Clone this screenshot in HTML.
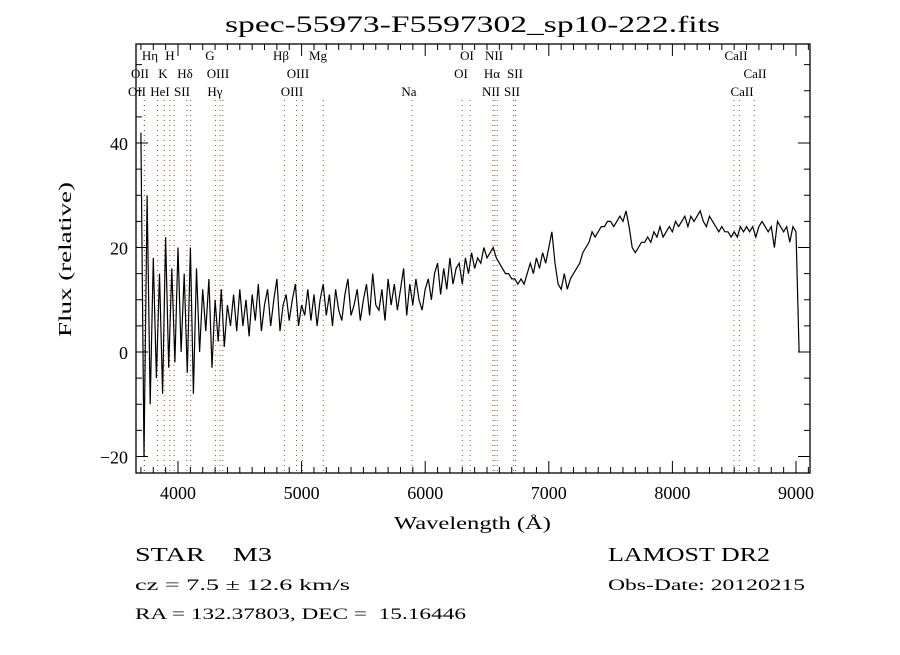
<!DOCTYPE html>
<html><head><meta charset="utf-8">
<style>
html,body{margin:0;padding:0;background:#fff;}
svg text{font-family:"Liberation Serif",serif;fill:#000;}
</style></head>
<body>
<svg id="chart" width="900" height="650" viewBox="0 0 900 650" xmlns="http://www.w3.org/2000/svg">
<rect x="0" y="0" width="900" height="650" fill="#fff"/>
<text x="225" y="32" font-size="23" textLength="495" lengthAdjust="spacingAndGlyphs">spec-55973-F5597302_sp10-222.fits</text>
<g id="lines"></g>
<g id="series"></g>
<g id="axes"></g>
<text x="394" y="529" font-size="18" textLength="157" lengthAdjust="spacingAndGlyphs">Wavelength (Å)</text>
<text transform="translate(71,337) rotate(-90)" font-size="18" textLength="155" lengthAdjust="spacingAndGlyphs">Flux (relative)</text>
<text x="135" y="561" font-size="20" textLength="137" lengthAdjust="spacingAndGlyphs" xml:space="preserve">STAR    M3</text>
<text x="608" y="561" font-size="20" textLength="162" lengthAdjust="spacingAndGlyphs">LAMOST DR2</text>
<text x="135" y="590" font-size="16" textLength="215" lengthAdjust="spacingAndGlyphs">cz = 7.5 ± 12.6 km/s</text>
<text x="608" y="590" font-size="16" textLength="197" lengthAdjust="spacingAndGlyphs">Obs-Date: 20120215</text>
<text x="135" y="619" font-size="16" textLength="331" lengthAdjust="spacingAndGlyphs" xml:space="preserve">RA = 132.37803, DEC =  15.16446</text>
</svg>
<script>
const wlStart = 3700;
const wlStep = 25;
const flux = [42,-20,30,-10,18,-5,15,-8,22,-3,16,-2,20,0,15,-4,20,
-8,16,0,12,4,14,-3,10,2,12,1,9,
5,11,4,12,5,10,3,11,6,13,4,9,12,5,10,14,4,9,11,6,10,13,5,9,
7,12,6,11,5,10,13,7,11,5,12,8,6,11,14,7,9,12,6,10,
13,7,15,9,8,12,6,14,9,13,8,12,16,7,13,9,14,10,8,12,
14,10,15,17,11,16,12,18,13,16,17,13,18,15,19,16,18,17,20,18,
19,20,18,17,16,15,15,14,14,13,14,13,15,17,15,18,16,19,17,20,
23,17,13,12,15,12,14,15,16,17,19,20,21,23,22,23,24,24,25,25,
24,25,26,25,27,24,20,19,20,21,21,22,21,23,22,24,22,23,24,23,
25,24,25,26,24,26,25,26,27,25,24,26,25,24,23,24,23,23,22,23,
22,24,23,24,23,24,22,24,25,24,23,24,20,25,24,23,24,21,24,23,0];
const xTicks = [4000,5000,6000,7000,8000,9000];
const yTicks = [-20,0,20,40];
const lineWl = [3727,3729,3835,3889,3934,3969,4072,4102,4304,4340,4363,4861,4959,5007,5175,5894,6300,6364,6548,6563,6583,6716,6731,8498,8542,8662];
const lineLabels = [["Hη",150,60],["H",170,60],["G",210,60],["Hβ",281,60],["Mg",318,60],["OI",467,60],["NII",494,60],["CaII",736,60],
["OII",140,78],["K",163,78],["Hδ",185,78],["OIII",218,78],["OIII",298,78],["OI",461,78],["Hα",492,78],["SII",515,78],["CaII",755,78],
["OII",137,96],["HeI",160,96],["SII",182,96],["Hγ",215,96],["OIII",292,96],["Na",409,96],["NII",491,96],["SII",512,96],["CaII",742,96]];

const L=136, R=810, T=44, B=473;
const X = w => 178 + (w-4000)*0.1236;
const Y = f => 352 - f*5.225;
const NS="http://www.w3.org/2000/svg";
function mk(tag, parent, attrs){const e=document.createElementNS(NS,tag);for(const k in attrs)e.setAttribute(k,attrs[k]);parent.appendChild(e);return e;}

const lg=document.getElementById('lines');
lineWl.forEach(w=>{
  const l=mk('line',lg,{x1:X(w),x2:X(w),y1:100,y2:B,stroke:'#a0522d','stroke-width':1,'stroke-dasharray':'1,4'});
  
  
});
lineLabels.forEach(d=>{
  const t=mk('text',lg,{x:d[1],y:d[2],'font-size':13,'text-anchor':'middle'});
  t.textContent=d[0];
  
  
});

const sg=document.getElementById('series');
let pts=flux.map((f,i)=>X(wlStart+i*wlStep).toFixed(1)+','+Y(f).toFixed(1)).join(' ');
const pl=mk('polyline',sg,{points:pts,fill:'none',stroke:'#000','stroke-width':1.2});



const ag=document.getElementById('axes');
const fr=mk('rect',ag,{x:L,y:T,width:R-L,height:B-T,fill:'none',stroke:'#000','stroke-width':1.3});


for(let w=3700; w<=9100; w+=100){
  const big = w%1000===0, len = big?12:6;
  mk('line',ag,{x1:X(w),x2:X(w),y1:B,y2:B-len,stroke:'#000'});
  mk('line',ag,{x1:X(w),x2:X(w),y1:T,y2:T+len,stroke:'#000'});
}
xTicks.forEach(w=>{
  const t=mk('text',ag,{x:X(w)-18,y:B+26,'font-size':18,textLength:36,lengthAdjust:'spacingAndGlyphs'});
  t.textContent=w;
  
  
});
for(let f=-20; f<=55; f+=5){
  const big = f%20===0, len = big?12:6;
  mk('line',ag,{x1:L,x2:L+len,y1:Y(f),y2:Y(f),stroke:'#000'});
  mk('line',ag,{x1:R,x2:R-len,y1:Y(f),y2:Y(f),stroke:'#000'});
}
yTicks.forEach(f=>{
  const t=mk('text',ag,{x:L-8,y:Y(f)+7,'font-size':18,'text-anchor':'end'});
  t.textContent=f<0?'−'+(-f):f;
  
  
});
</script>
</body></html>
